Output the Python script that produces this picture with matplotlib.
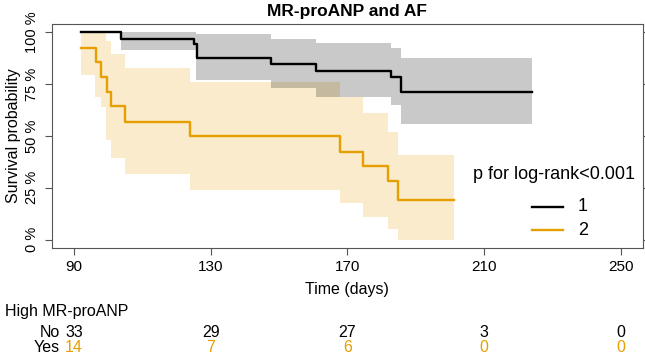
import matplotlib
matplotlib.use("Agg")
import matplotlib.pyplot as plt
from matplotlib.transforms import blended_transform_factory

plt.rcParams['font.family'] = ['Liberation Sans', 'DejaVu Sans']

# Kaplan-Meier curves (time in days, survival fraction)
low_time = [92, 103.9, 125, 126, 147.7, 160.9, 182.8, 185.7, 224]
low_surv = [1.0, 0.970, 0.942, 0.878, 0.849, 0.814, 0.785, 0.713, 0.713]

high_time = [92, 96.6, 97.9, 99.8, 101, 104.9, 123.9, 167.7, 174.5, 181.8, 184.7, 201]
high_surv = [0.925, 0.857, 0.785, 0.713, 0.644, 0.569, 0.5, 0.425, 0.356, 0.285, 0.192, 0.192]

# confidence bands
low_ci_time = [103.9, 125.8, 147.7, 160.9, 182.8, 185.7, 224]
low_ci_upper = [1.0, 0.99, 0.97, 0.95, 0.925, 0.877, 0.877]
low_ci_lower = [0.915, 0.769, 0.729, 0.689, 0.649, 0.558, 0.558]

high_ci_time = [92, 96.1, 97.8, 99.5, 101, 104.9, 123.9, 167.7, 174.5, 181.8, 184.7, 201]
high_ci_upper = [1.0, 1.0, 1.0, 0.957, 0.893, 0.828, 0.761, 0.689, 0.609, 0.52, 0.409, 0.409]
high_ci_lower = [0.793, 0.69, 0.64, 0.48, 0.393, 0.316, 0.24, 0.176, 0.109, 0.051, 0.0, 0.0]

# numbers at risk
risk_times = [90, 130, 170, 210, 250]
risk_no = [33, 29, 27, 3, 0]
risk_yes = [14, 7, 6, 0, 0]

x_ticks = [90, 130, 170, 210, 250]
y_ticks = [0, 0.25, 0.5, 0.75, 1.0]
y_labels = ['0 %', '25 %', '50 %', '75 %', '100 %']

ORANGE = '#E69F00'

fig = plt.figure(figsize=(6.45, 3.56), dpi=100)
ax = fig.add_axes([0.0806, 0.3034, 0.9163, 0.6292])

ax.fill_between(high_ci_time, high_ci_lower, high_ci_upper, step='post',
                color=ORANGE, alpha=0.2, linewidth=0)
ax.fill_between(low_ci_time, low_ci_lower, low_ci_upper, step='post',
                color='black', alpha=0.21, linewidth=0)
ax.step(low_time, low_surv, where='post', color='black', lw=1.7)
ax.step(high_time, high_surv, where='post', color=ORANGE, lw=1.7)

ax.set_xlim(83.6, 256.4)
ax.set_ylim(-0.04, 1.04)
ax.set_xticks(x_ticks)
ax.set_yticks(y_ticks)
ax.set_yticklabels(y_labels, rotation=90, va='center')
ax.tick_params(axis='x', direction='out', length=5, width=0.8, color='#555555',
               labelsize=11, pad=4)
ax.tick_params(axis='y', direction='out', length=5, width=0.8, color='#555555',
               labelsize=10.5, pad=4, right=True)
for sp in ax.spines.values():
    sp.set_color('#555555')
    sp.set_linewidth(0.8)

ax.set_ylabel('Survival probability', fontsize=11.5, labelpad=3)
fig.text(0.538, 0.969, 'MR-proANP and AF', ha='center', va='center',
         fontsize=12.5, fontweight='bold')
fig.text(0.538, 0.188, 'Time (days)', ha='center', va='center', fontsize=11.5)

# legend drawn by hand, R style
ax.text(0.849, 0.33, 'p for log-rank<0.001', transform=ax.transAxes,
        ha='center', va='center', fontsize=13)
ax.plot([0.812, 0.865], [0.184, 0.184], transform=ax.transAxes, color='black', lw=1.7)
ax.plot([0.812, 0.865], [0.080, 0.080], transform=ax.transAxes, color=ORANGE, lw=1.7)
ax.text(0.89, 0.184, '1', transform=ax.transAxes, ha='left', va='center', fontsize=13)
ax.text(0.89, 0.080, '2', transform=ax.transAxes, ha='left', va='center', fontsize=13)

# risk table under the plot
tr = blended_transform_factory(ax.transData, fig.transFigure)
fig.text(0.008, 0.1264, 'High MR-proANP', ha='left', va='center', fontsize=11.5)
fig.text(0.093, 0.0674, 'No', ha='right', va='center', fontsize=11.5)
fig.text(0.093, 0.0225, 'Yes', ha='right', va='center', fontsize=11.5)
for t, n_no, n_yes in zip(risk_times, risk_no, risk_yes):
    ax.text(t, 0.0674, str(n_no), transform=tr, ha='center', va='center',
            fontsize=11.5, color='black')
    ax.text(t, 0.0225, str(n_yes), transform=tr, ha='center', va='center',
            fontsize=11.5, color=ORANGE)

fig.savefig('out.png', dpi=100)
